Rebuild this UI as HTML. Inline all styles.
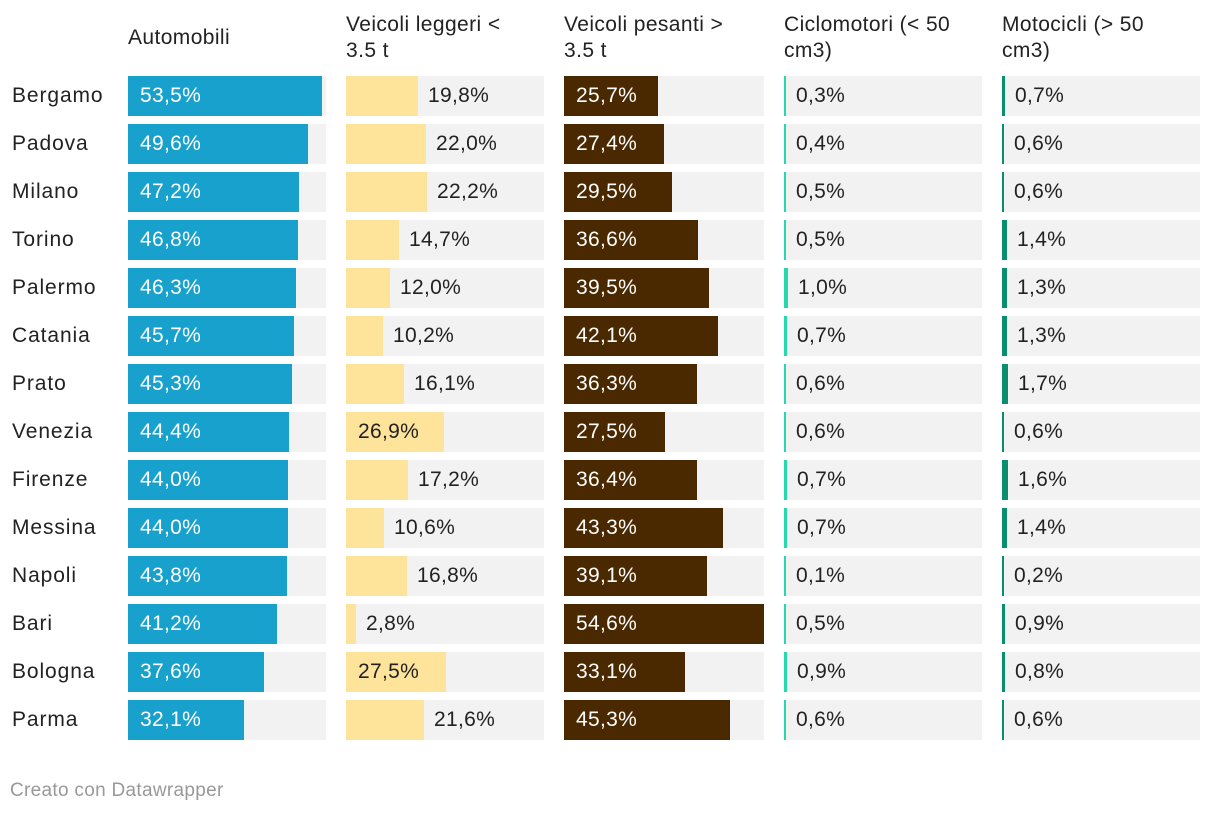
<!DOCTYPE html>
<html><head><meta charset="utf-8">
<style>
body{margin:0;background:#fff;width:1220px;height:816px;overflow:hidden;font-family:"Liberation Sans",sans-serif;position:relative}
.a{position:absolute}
.h{font-size:21px;color:#222;line-height:26px;letter-spacing:0.4px;white-space:nowrap}
.lbl{font-size:21px;line-height:40px;white-space:nowrap;letter-spacing:0.3px}
.city{letter-spacing:0.9px}
</style></head><body>
<div id="root"></div>
<div class="a" style="left:10px;top:780px;font-size:19px;color:#999;letter-spacing:0.3px">Creato con Datawrapper</div>
<script>
const cities=["Bergamo","Padova","Milano","Torino","Palermo","Catania","Prato","Venezia","Firenze","Messina","Napoli","Bari","Bologna","Parma"];
const headers=["Automobili","Veicoli leggeri &lt;<br>3.5 t","Veicoli pesanti &gt;<br>3.5 t","Ciclomotori (&lt; 50<br>cm3)","Motocicli (&gt; 50<br>cm3)"];
const auto=[53.5,49.6,47.2,46.8,46.3,45.7,45.3,44.4,44.0,44.0,43.8,41.2,37.6,32.1];
const leggeri=[19.8,22.0,22.2,14.7,12.0,10.2,16.1,26.9,17.2,10.6,16.8,2.8,27.5,21.6];
const pesanti=[25.7,27.4,29.5,36.6,39.5,42.1,36.3,27.5,36.4,43.3,39.1,54.6,33.1,45.3];
const ciclo=[0.3,0.4,0.5,0.5,1.0,0.7,0.6,0.6,0.7,0.7,0.1,0.5,0.9,0.6];
const moto=[0.7,0.6,0.6,1.4,1.3,1.3,1.7,0.6,1.6,1.4,0.2,0.9,0.8,0.6];
const series=[auto,leggeri,pesanti,ciclo,moto];
const names=["automobili","veicoli-leggeri","veicoli-pesanti","ciclomotori","motocicli"];
const colX=[128,346,564,784,1002], colW=[198,198,200,198,198];
const colors=["#18a1cd","#fee39b","#4a2800","#27d9aa","#0a8f6e"];
const insideText=["#fff","#222","#fff","#222","#222"];
const root=document.getElementById('root');
function mk(cls,style,html){const d=document.createElement('div');d.className=cls;d.style.cssText=style;if(html!==undefined)d.innerHTML=html;root.appendChild(d);return d;}
headers.forEach((t,c)=>{
  const lines=t.split('<br>').length;
  const d=mk('a h',`left:${colX[c]}px;top:${lines==1?25:12}px`,t);
  
  
});
cities.forEach((city,i)=>{
  const y=76+i*48;
  const n=mk('a lbl city',`left:12px;top:${y}px;color:#222`,city);
  
  
  series.forEach((s,c)=>{
    const v=s[i];
    const bg=mk('a',`left:${colX[c]}px;top:${y}px;width:${colW[c]}px;height:40px;background:#f2f2f2`);
    
    
    const w=Math.max(2,Math.round(v*colW[c]/54.6));
    const b=mk('a',`left:${colX[c]}px;top:${y}px;width:${w}px;height:40px;background:${colors[c]}`);
    
    
    const txt=v.toFixed(1).replace('.',',')+'%';
    const inside=w>85;
    const lx=inside?colX[c]+12:colX[c]+w+10;
    const l=mk('a lbl',`left:${lx}px;top:${y}px;color:${inside?insideText[c]:'#222'}`,txt);
    
    
  });
});
</script>
</body></html>
